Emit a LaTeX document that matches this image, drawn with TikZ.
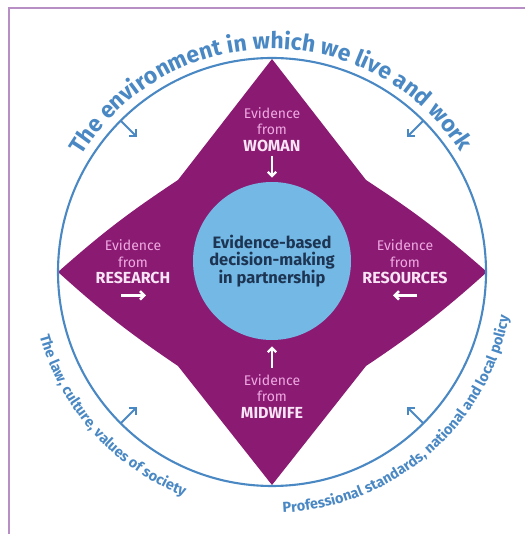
\documentclass[tikz,border=0pt]{standalone}
\usepackage{fontspec}
\setsansfont{Fira Sans}
\usetikzlibrary{arrows.meta,calc,decorations.text}
\definecolor{StarPurple}{HTML}{8B1A72}
\definecolor{HubBlue}{HTML}{74B9E6}
\definecolor{RingBlue}{HTML}{4A88C4}
\definecolor{HubNavy}{HTML}{1D3553}
\definecolor{EvPink}{HTML}{EEA9E2}
\definecolor{EvWhite}{HTML}{F9E4F5}
\definecolor{FrameLilac}{HTML}{B88FC4}
\newcommand\srcname[1]{\textcolor{EvWhite}{\fontsize{16}{16.5}\selectfont\bfseries #1}}

\begin{document}
\begin{tikzpicture}[x=1pt,y=1pt,font=\sffamily,line width=.55pt,
 evid/.style={align=center,text=EvPink,inner sep=0pt,
  font=\sffamily\fontsize{14}{16.5}\selectfont},
 inarrow/.style={draw=white,line width=2.4pt,-{Straight Barb[angle=90:6pt]}},
 outarrow/.style={draw=RingBlue,line width=2pt,-{Straight Barb[angle=90:7pt]}},
 ringtext/.style={decorate,decoration={text along path,text align=center,
  text color=RingBlue,#1}}]
\useasboundingbox (-272,-262) rectangle (253,272);
% frame, top and left edges only
\draw[FrameLilac,line width=1.3pt] (-263,-262)--(-263,264)--(253,264);
% four-pointed star
\fill[StarPurple] (0,213)--(94,92) to[bend left=4] (215,0) to[bend left=4] (94,-94)
 --(0,-213)--(-94,-94) to[bend left=4] (-214,0) to[bend left=4] (-94,92)--cycle;
\draw[RingBlue,line width=2.1pt] (0,0) circle (214);
\foreach \a in {45,135,225,315}
 \draw[outarrow] (\a:214)--(\a:191);
\node[circle,fill=HubBlue,minimum size=158pt,inner sep=0pt,align=center,text=HubNavy,
 font=\sffamily\bfseries\fontsize{16.5}{17.5}\selectfont] (hub) at (0,11)
 {Evidence-based\\decision-making\\in partnership};
% evidence sources
\node[evid,anchor=south] (woman) at (0,120) {Evidence\\from\\\srcname{WOMAN}};
\node[evid,anchor=north] (midwife) at (0,-102) {Evidence\\from\\\srcname{MIDWIFE}};
\node[evid] (research) at (-139,10) {Evidence\\from\\\srcname{RESEARCH}};
\node[evid] (resources) at (133,10) {Evidence\\from\\\srcname{RESOURCES}};
\draw[inarrow,shorten <=4pt,shorten >=4pt] (woman.south)--(hub.north);
\draw[inarrow,shorten <=6pt,shorten >=6pt] (midwife.north)--(hub.south);
\draw[inarrow] ($(research.south)+(-12,-11)$)--++(25,0);
\draw[inarrow] ($(resources.south)+(12,-11)$)--++(-24,0);
% texts round the ring
\path[ringtext={text={|\sffamily\fontsize{23}{23}\selectfont\bfseries|The environment in which we live and work}}]
 (168:223) arc[start angle=168,end angle=13,radius=223];
\path[ringtext={text={|\sffamily\fontsize{14.5}{14.5}\selectfont\bfseries|The law, culture, values of society}}]
 (184:241) arc[start angle=184,end angle=260,radius=241];
\path[ringtext={text={|\sffamily\fontsize{14.5}{14.5}\selectfont\bfseries|Professional standards, national and local policy}}]
 (264:241) arc[start angle=264,end angle=358,radius=241];
\end{tikzpicture}
\end{document}
